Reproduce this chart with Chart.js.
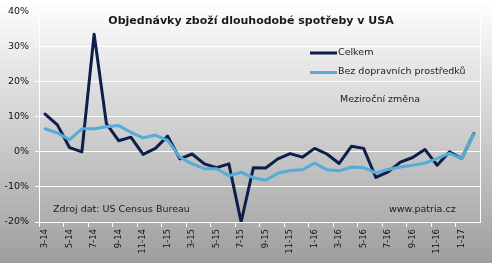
<!DOCTYPE html>
<html>
<head>
<meta charset="utf-8">
<script src="https://cdn.jsdelivr.net/npm/chart.js@4/dist/chart.umd.min.js"></script>
<style>
  html, body { margin: 0; padding: 0; background: #fff; }
  #wrap { width: 492px; height: 263px; }
</style>
</head>
<body>
<div id="wrap"><canvas id="myChart" width="492" height="263"></canvas></div>
<script>
// mesice 3-14 .. 2-17
var labels = ['3-14','4-14','5-14','6-14','7-14','8-14','9-14','10-14','11-14','12-14',
              '1-15','2-15','3-15','4-15','5-15','6-15','7-15','8-15','9-15','10-15','11-15','12-15',
              '1-16','2-16','3-16','4-16','5-16','6-16','7-16','8-16','9-16','10-16','11-16','12-16',
              '1-17','2-17'];

// mezirocni zmena v %
var celkem = [10.8, 7.7, 1.2, 0.0, 33.6, 8.1, 3.2, 4.2, -0.7, 1.0,
              4.5, -2.0, -0.6, -3.4, -4.5, -3.4, -20.0, -4.5, -4.6, -2.0, -0.5, -1.5,
              1.0, -0.6, -3.3, 1.6, 1.0, -7.3, -5.7, -2.9, -1.6, 0.7, -3.8, 0.0,
              -1.9, 5.2];
var bezDopravy = [6.6, 5.4, 3.5, 6.6, 6.6, 7.2, 7.5, 5.6, 4.0, 4.8,
                  3.3, -1.5, -3.4, -4.8, -4.8, -6.8, -5.8, -7.4, -8.1, -6.1, -5.3, -5.1,
                  -3.2, -5.1, -5.4, -4.3, -4.5, -6.0, -5.0, -4.3, -3.8, -3.2, -1.9, -0.4,
                  -1.9, 5.1];

var yTicks = [-20, -10, 0, 10, 20, 30, 40];

var tmava = '#0c1f4b';
var svetla = '#55acd8';
var pismo = '"DejaVu Sans", Verdana, sans-serif';

// pozadi + texty v grafu
var pozadi = {
    id: 'pozadi',
    beforeDraw: function (chart) {
        var ctx = chart.ctx;
        var g = ctx.createLinearGradient(0, 0, 0, chart.height);
        g.addColorStop(0, '#ffffff');
        g.addColorStop(1, '#9e9e9e');
        ctx.save();
        ctx.fillStyle = g;
        ctx.fillRect(0, 0, chart.width, chart.height);
        ctx.restore();
    },
    beforeDatasetsDraw: function (chart) {
        var a = chart.chartArea;
        var ctx = chart.ctx;
        ctx.save();
        ctx.strokeStyle = '#ffffff';
        ctx.lineWidth = 1;
        ctx.beginPath();
        ctx.moveTo(Math.round(a.right) + 0.5, a.top);
        ctx.lineTo(Math.round(a.right) + 0.5, a.bottom);
        ctx.stroke();
        ctx.restore();
    },
    afterDraw: function (chart) {
        var ctx = chart.ctx;
        ctx.save();
        ctx.fillStyle = '#1a1a1a';
        ctx.textBaseline = 'middle';

        ctx.font = 'bold 11px ' + pismo;
        ctx.textAlign = 'center';
        ctx.fillText('Objednávky zboží dlouhodobé spotřeby v USA', 251, 21);

        ctx.font = '9.5px ' + pismo;
        ctx.textAlign = 'left';
        ctx.fillText('Celkem', 338, 53);
        ctx.fillText('Bez dopravních prostředků', 338, 72);
        ctx.fillText('Meziroční změna', 340, 100);
        ctx.fillText('Zdroj dat: US Census Bureau', 53, 210);
        ctx.fillText('www.patria.cz', 389, 210);

        ctx.lineWidth = 3;
        ctx.strokeStyle = tmava;
        ctx.beginPath(); ctx.moveTo(310, 53); ctx.lineTo(337, 53); ctx.stroke();
        ctx.strokeStyle = svetla;
        ctx.beginPath(); ctx.moveTo(310, 72.5); ctx.lineTo(337, 72.5); ctx.stroke();
        ctx.restore();
    }
};

const ctx = document.getElementById('myChart').getContext('2d');
const myChart = new Chart(ctx, {
    type: 'line',
    data: {
        labels: labels,
        datasets: [{
            label: 'Celkem',
            data: celkem,
            borderColor: tmava,
            borderWidth: 3,
            borderJoinStyle: 'round',
            borderCapStyle: 'round',
            pointRadius: 0,
            tension: 0,
            order: 2
        }, {
            label: 'Bez dopravních prostředků',
            data: bezDopravy,
            borderColor: svetla,
            borderWidth: 3,
            borderJoinStyle: 'round',
            borderCapStyle: 'round',
            pointRadius: 0,
            tension: 0,
            order: 1
        }]
    },
    options: {
        responsive: false,
        animation: false,
        layout: { padding: { top: 8, right: 12, left: 0, bottom: 0 } },
        plugins: {
            legend: { display: false },
            tooltip: { enabled: false }
        },
        scales: {
            x: {
                offset: true,
                afterFit: function (s) { s.height = 41; },
                border: { color: '#ffffff', width: 1 },
                grid: {
                    offset: true,
                    drawOnChartArea: false,
                    tickLength: 5,
                    color: function (c) { return c.index % 2 === 0 ? '#ffffff' : 'rgba(0,0,0,0)'; }
                },
                ticks: {
                    autoSkip: false,
                    minRotation: 90,
                    maxRotation: 90,
                    padding: 2,
                    color: '#111',
                    font: { family: pismo, size: 8.5 },
                    callback: function (v, i) { return i % 2 === 0 ? labels[i] : ''; }
                }
            },
            y: {
                min: yTicks[0],
                max: yTicks[yTicks.length - 1],
                afterFit: function (s) { s.width = 39; },
                afterBuildTicks: function (s) { s.ticks = yTicks.map(function (v) { return { value: v }; }); },
                border: { color: '#ffffff', width: 1 },
                grid: { color: '#ffffff', lineWidth: 1, tickLength: 4 },
                ticks: {
                    padding: 6,
                    color: '#111',
                    font: { family: pismo, size: 9.5 },
                    callback: function (v) { return v + '%'; }
                }
            }
        }
    },
    plugins: [pozadi]
});
</script>
</body>
</html>
